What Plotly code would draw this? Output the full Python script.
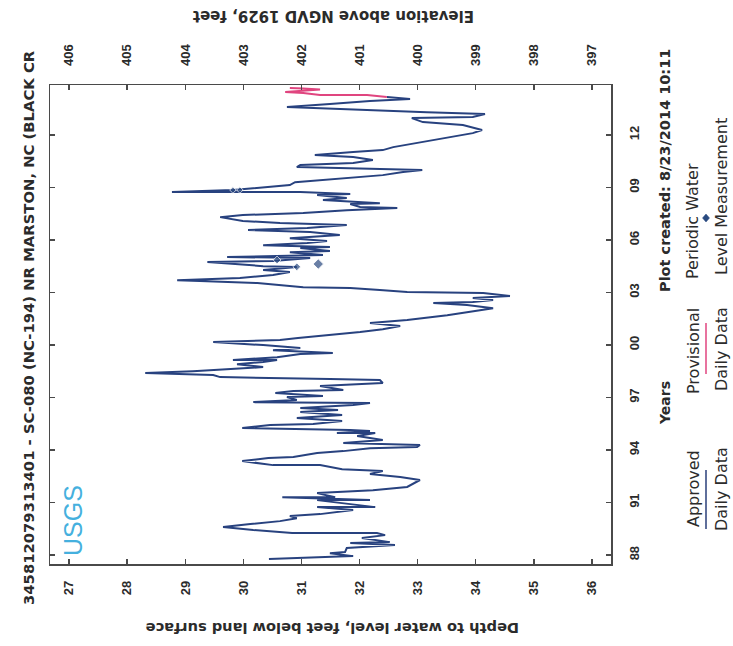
import plotly.graph_objects as go

# ---------------- data ----------------
# Approved daily data: decimal year vs depth to water (ft below land surface)
years = [1987.77, 1987.83, 1987.94, 1988.11, 1988.17, 1988.40, 1988.57, 1988.69, 1988.74, 1988.97,
         1989.14, 1989.26, 1989.26, 1989.43, 1989.60, 1989.77, 1989.94, 1990.11, 1990.23, 1990.34,
         1990.57, 1990.74, 1990.74, 1991.14, 1991.14, 1991.31, 1991.31, 1991.54, 1991.71, 1991.89,
         1992.29, 1992.46, 1992.63, 1992.80, 1992.91, 1993.14, 1993.14, 1993.37, 1993.54, 1993.60,
         1993.83, 1993.94, 1994.11, 1994.17, 1994.29, 1994.40, 1994.57, 1994.80, 1994.97, 1994.97,
         1995.09, 1995.14, 1995.26, 1995.26, 1995.43, 1995.49, 1995.66, 1995.83, 1996.00, 1996.17,
         1996.29, 1996.40, 1996.57, 1996.69, 1996.74, 1996.86, 1997.03, 1997.09, 1997.26, 1997.37,
         1997.43, 1997.66, 1997.83, 1998.00, 1998.06, 1998.17, 1998.29, 1998.40, 1998.51, 1998.63,
         1998.74, 1998.91, 1999.03, 1999.14, 1999.14, 1999.31, 1999.49, 1999.54, 1999.71, 1999.83,
         2000.00, 2000.17, 2000.29, 2000.40, 2000.57, 2000.74, 2000.91, 2001.09, 2001.26, 2001.43,
         2001.71, 2001.94, 2002.11, 2002.29, 2002.40, 2002.46, 2002.57, 2002.69, 2002.80, 2002.97,
         2003.03, 2003.14, 2003.26, 2003.31, 2003.43, 2003.54, 2003.66, 2003.71, 2003.83, 2004.00,
         2004.17, 2004.29, 2004.46, 2004.51, 2004.74, 2004.80, 2004.97, 2005.03, 2005.14, 2005.31,
         2005.37, 2005.54, 2005.60, 2005.71, 2005.83, 2005.94, 2006.11, 2006.23, 2006.29, 2006.46,
         2006.57, 2006.69, 2006.86, 2006.97, 2007.09, 2007.31, 2007.43, 2007.54, 2007.71, 2007.83,
         2007.89, 2008.06, 2008.11, 2008.29, 2008.40, 2008.57, 2008.63, 2008.74, 2008.74, 2008.86,
         2008.97, 2009.14, 2009.31, 2009.54, 2009.71, 2009.89, 2010.00, 2010.17, 2010.29, 2010.40,
         2010.57, 2010.74, 2010.86, 2011.03, 2011.14, 2011.31, 2011.54, 2011.71, 2011.89, 2012.11,
         2012.29, 2012.57, 2012.74, 2012.97, 2013.03, 2013.20, 2013.31, 2013.49, 2013.60, 2013.77,
         2013.94, 2014.06, 2014.17]
depth = [30.44, 30.98, 31.89, 31.49, 31.75, 31.78, 32.61, 31.84, 32.52, 32.04,
         32.44, 32.30, 30.84, 30.17, 29.65, 30.12, 30.63, 30.92, 30.80, 31.32,
         31.89, 31.27, 32.27, 31.27, 32.18, 30.67, 31.58, 31.27, 32.23, 32.82,
         33.04, 32.70, 32.18, 32.40, 31.70, 31.32, 30.51, 29.98, 30.43, 30.86,
         31.27, 31.72, 32.18, 32.99, 33.04, 31.72, 32.40, 31.96, 32.27, 31.61,
         32.18, 31.84, 30.46, 29.98, 30.46, 31.20, 31.70, 30.92, 31.70, 30.98,
         31.63, 30.98, 31.89, 32.18, 30.17, 30.92, 30.75, 31.37, 30.55, 30.86,
         31.72, 31.32, 32.40, 32.35, 31.49, 29.60, 29.48, 28.31, 29.13, 29.89,
         30.34, 29.89, 30.34, 30.58, 29.82, 30.58, 30.98, 31.54, 30.51, 30.98,
         30.34, 29.48, 30.63, 30.94, 31.54, 32.01, 32.40, 32.70, 32.18, 32.82,
         33.51, 33.95, 34.30, 33.85, 33.27, 33.95, 34.30, 33.95, 34.59, 34.13,
         32.82, 32.35, 31.84, 31.03, 30.68, 30.24, 29.25, 28.86, 29.94, 30.51,
         30.80, 30.34, 30.92, 30.34, 29.38, 30.51, 31.15, 29.72, 31.37, 30.80,
         31.49, 30.98, 31.49, 30.34, 31.10, 31.44, 30.80, 31.44, 31.66, 31.15,
         30.08, 31.10, 31.78, 30.63, 29.99, 29.60, 29.99, 31.03, 31.78, 32.65,
         32.01, 31.84, 32.35, 31.37, 31.78, 31.27, 31.84, 30.98, 28.77, 29.82,
         30.17, 30.80, 30.89, 31.72, 32.40, 32.75, 33.08, 30.92, 30.98, 31.89,
         32.23, 31.89, 31.23, 31.89, 32.40, 32.58, 32.99, 33.27, 33.61, 33.95,
         34.11, 33.78, 33.09, 32.90, 33.95, 34.16, 33.16, 31.49, 30.75, 31.49,
         32.18, 32.87, 32.47]

# Provisional daily data
prov_years = [2014.17, 2014.29, 2014.29, 2014.40, 2014.46, 2014.54, 2014.60, 2014.66, 2014.69]
prov_depth = [32.47, 32.13, 31.32, 31.03, 30.72, 31.03, 31.32, 31.03, 30.80]

# Periodic water-level measurements
meas_years = [2004.63, 2004.47, 2004.86, 2008.86, 2008.86]
meas_depth = [31.29, 30.92, 30.58, 29.82, 29.94]
meas_size = [8, 6, 6, 5, 5]

LAND_SURFACE_ELEV = 433.0   # ft above NGVD 1929
depth_ticks = list(range(27, 37))
elev_ticks = list(range(406, 396, -1))
year_tickvals = [1988, 1991, 1994, 1997, 2000, 2003, 2006, 2009, 2012]
year_ticktext = ["88", "91", "94", "97", "00", "03", "06", "09", "12"]

TITLE = "345812079313401 - SC-080 (NC-194) NR MARSTON, NC (BLACK CR"

# ---------------- layout geometry (pixels) ----------------
W, H = 733, 646
PL, PR, PT, PB = 50, 611, 85, 564
DEPTH_RANGE = [26.67, 36.33]
YEAR_RANGE = [1987.49, 2014.86]


def paper(px, py):
    return (px - PL) / (PR - PL), (PB - py) / (PB - PT)


FONT = "Liberation Sans, Arial, sans-serif"
TFONT = "DejaVu Sans, Verdana, sans-serif"
INK = "#2b2b2b"
NAVY = "#28427f"
PINK = "#e0457f"
FRAME = "#4a4a4a"

fig = go.Figure()

fig.add_trace(go.Scatter(x=depth, y=years, mode="lines",
                         line=dict(color=NAVY, width=2.0), hoverinfo="skip"))
fig.add_trace(go.Scatter(x=prov_depth, y=prov_years, mode="lines",
                         line=dict(color=PINK, width=2.0), hoverinfo="skip"))
fig.add_trace(go.Scatter(x=meas_depth, y=meas_years, mode="markers",
                         marker=dict(symbol="diamond", size=meas_size, color="#2a4a80"),
                         hoverinfo="skip"))
# elevation axis companion (invisible) so the top axis is drawn
fig.add_trace(go.Scatter(x=[LAND_SURFACE_ELEV - d for d in depth], y=years, xaxis="x2",
                         mode="lines", line=dict(width=0), opacity=0, hoverinfo="skip"))

tickfont = dict(family=FONT, size=13, color=INK, weight="bold")

fig.update_layout(
    width=W, height=H, autosize=False,
    margin=dict(l=PL, r=W - PR, t=PT, b=H - PB, pad=0),
    paper_bgcolor="white", plot_bgcolor="white",
    showlegend=False, hovermode=False,
    xaxis=dict(range=DEPTH_RANGE, tickvals=depth_ticks, ticks="inside", ticklen=5,
               tickwidth=1.5, tickcolor=FRAME, tickangle=-90, tickfont=tickfont,
               showline=True, linecolor=FRAME, linewidth=1.5, showgrid=False,
               zeroline=False, ticklabelstandoff=10),
    xaxis2=dict(range=[LAND_SURFACE_ELEV - DEPTH_RANGE[0], LAND_SURFACE_ELEV - DEPTH_RANGE[1]],
                overlaying="x", side="top", anchor="y", tickvals=elev_ticks,
                ticks="inside", ticklen=5, tickwidth=1.5, tickcolor=FRAME, tickangle=-90,
                tickfont=tickfont, showline=True, linecolor=FRAME, linewidth=1.5,
                showgrid=False, zeroline=False, ticklabelstandoff=15),
    yaxis=dict(range=YEAR_RANGE, side="right", tickvals=year_tickvals, ticktext=year_ticktext,
               ticks="inside", ticklen=5, tickwidth=1.5, tickcolor=FRAME, tickangle=-90,
               tickfont=tickfont, showline=True, linecolor=FRAME, linewidth=1.5,
               mirror="ticks", showgrid=False, zeroline=False, ticklabelstandoff=11),
)


def note(text, px, py, size, angle=-90, color=INK, weight="bold", family=TFONT):
    x, y = paper(px, py)
    fig.add_annotation(text=text, x=x, y=y, xref="paper", yref="paper",
                       xanchor="center", yanchor="middle", showarrow=False,
                       textangle=angle,
                       font=dict(family=family, size=size, color=color, weight=weight))


note(TITLE, 28, 328, 14.8)
note("Elevation above NGVD 1929, feet", 334, 16, 15, angle=180)
note("Depth to water level, feet below land surface", 333, 629, 14.6, angle=180)
note("Years", 665, 403, 14)
note("Plot created: 8/23/2014 10:11", 665, 171, 14.5)
note("Approved", 693, 489, 16, weight="normal")
note("Daily Data", 721, 489, 16, weight="normal")
note("Provisional", 693, 351, 16, weight="normal")
note("Daily Data", 721, 349, 16, weight="normal")
note("Periodic Water", 693, 221, 16, weight="normal")
note("Level Measurement", 721, 197, 16, weight="normal")
note("USGS", 73, 521, 25, color="#45b0de", weight="normal", family=FONT)

# legend samples
x0, y0 = paper(706, 529)
x1, y1 = paper(706, 470)
fig.add_shape(type="line", xref="paper", yref="paper", x0=x0, y0=y0, x1=x1, y1=y1,
              line=dict(color="#2a3f7a", width=1.5))
x0, y0 = paper(706, 374)
x1, y1 = paper(706, 323)
fig.add_shape(type="line", xref="paper", yref="paper", x0=x0, y0=y0, x1=x1, y1=y1,
              line=dict(color=PINK, width=1.5))
# periodic-measurement diamond symbol
cx, cy = 706, 218
pts = [paper(cx, cy - 4), paper(cx + 3.5, cy), paper(cx, cy + 4), paper(cx - 3.5, cy)]
path = "M " + " L ".join(f"{a},{b}" for a, b in pts) + " Z"
fig.add_shape(type="path", xref="paper", yref="paper", path=path,
              fillcolor="#2a4a80", line=dict(color="#2a4a80", width=0.5))

# the page's default 8px body margin would shift the figure; remove it
fig.write_html("out.html", config={"displayModeBar": False, "staticPlot": True},
               post_script="document.body.style.margin='0';document.body.style.overflow='hidden';")
